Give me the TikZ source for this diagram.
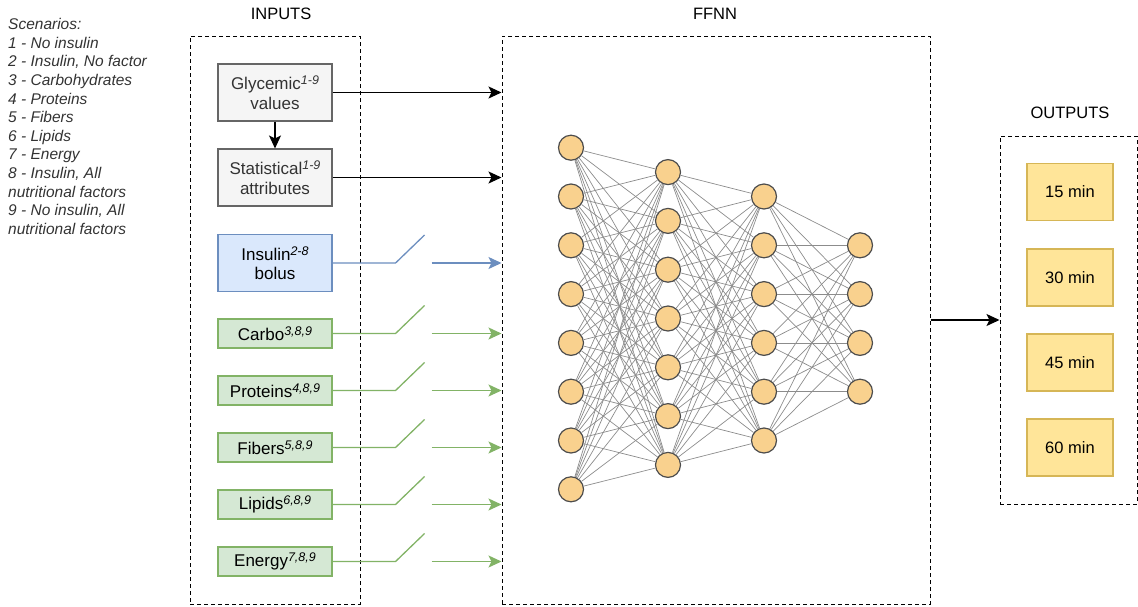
\documentclass[tikz,border=0pt]{standalone}
\usepackage{fontspec}
\setmainfont{Liberation Sans}
\usetikzlibrary{arrows.meta}

\definecolor{grayfill}{HTML}{F5F5F5}
\definecolor{graydraw}{HTML}{666666}
\definecolor{bluefill}{HTML}{DAE8FC}
\definecolor{bluedraw}{HTML}{6C8EBF}
\definecolor{greenfill}{HTML}{D5E8D4}
\definecolor{greendraw}{HTML}{82B366}
\definecolor{yellowfill}{HTML}{FFE599}
\definecolor{yellowdraw}{HTML}{D6B656}
\definecolor{neuronfill}{HTML}{F9D18E}
\definecolor{neurondraw}{HTML}{4D4D4D}
\definecolor{textgray}{HTML}{333333}

\newcommand\supi[1]{\raisebox{5pt}{\fontsize{12.5}{13}\selectfont\itshape #1}}

\tikzset{
  frame/.style={draw, line width=1pt, dash pattern=on 4pt off 3pt, inner sep=0pt},
  title/.style={font=\fontsize{16.5}{19.5}\selectfont, text=black, inner sep=0pt},
  inbox/.style={draw, line width=1.1pt, minimum width=114pt, align=center,
    inner sep=0pt, font=\fontsize{17}{19.5}\selectfont},
  graybox/.style={inbox, fill=grayfill, draw=graydraw, text=textgray, minimum height=57pt},
  bluebox/.style={inbox, fill=bluefill, draw=bluedraw, text=black, minimum height=57pt},
  greenbox/.style={inbox, fill=greenfill, draw=greendraw, text=black, minimum height=29pt},
  outbox/.style={draw=yellowdraw, fill=yellowfill, line width=1.1pt, minimum width=86pt,
    minimum height=57pt, inner sep=0pt, font=\fontsize{16.5}{19.5}\selectfont},
  neuron/.style={circle, draw=neurondraw, fill=neuronfill, line width=1.2pt,
    minimum size=25pt, inner sep=0pt},
  edge/.style={draw=black!45, line width=0.7pt},
  tip/.style={-{Stealth[length=13pt, width=12pt, inset=3pt]}},
  blackarrow/.style={tip, draw=black, line width=1.3pt},
  bluearrow/.style={tip, draw=bluedraw, line width=1.3pt},
  greenarrow/.style={tip, draw=greendraw, line width=1.3pt},
  blueline/.style={draw=bluedraw, line width=1.3pt},
  greenline/.style={draw=greendraw, line width=1.3pt},
}

\begin{document}
\begin{tikzpicture}[x=1pt, y=-1pt]
  \useasboundingbox (0,0) rectangle (1138,606);

  % legend of scenarios
  \node[anchor=north west, inner sep=0pt, align=left, text=textgray,
        font=\fontsize{15.5}{18.6}\selectfont\itshape] (legend) at (8,18.2)
    {Scenarios:\\1 - No insulin\\2 - Insulin, No factor\\3 - Carbohydrates\\4 - Proteins\\
     5 - Fibers\\6 - Lipids\\7 - Energy\\8 - Insulin, All\\nutritional factors\\
     9 - No insulin, All\\nutritional factors};

  % group frames
  \node[frame, minimum width=170pt, minimum height=568pt] (inputs) at (275,320) {};
  \node[frame, minimum width=428pt, minimum height=568pt] (ffnn) at (716,320) {};
  \node[frame, minimum width=137pt, minimum height=368pt] (outputs) at (1068.5,320) {};

  \node[title] (tin) at (281,14) {INPUTS};
  \node[title] (tff) at (715,14) {FFNN};
  \node[title] (tout) at (1070,113) {OUTPUTS};

  % input variables
  \node[graybox] (gly) at (275,92.5) {Glycemic\supi{1-9}\\values};
  \node[graybox] (stat) at (275,177.5) {Statistical\supi{1-9}\\attributes};
  \node[bluebox] (ins) at (275,263) {Insulin\supi{2-8}\\bolus};
  \node[greenbox] (carb) at (275,333.5) {Carbo\supi{3,8,9}};
  \node[greenbox] (prot) at (275,390.5) {Proteins\supi{4,8,9}};
  \node[greenbox] (fib) at (275,447.5) {Fibers\supi{5,8,9}};
  \node[greenbox] (lip) at (275,504.5) {Lipids\supi{6,8,9}};
  \node[greenbox] (ene) at (275,561.5) {Energy\supi{7,8,9}};

  \draw[blackarrow] (gly.south) -- (stat.north);
  \draw[blackarrow] (gly.east) -- (gly.east -| ffnn.west);
  \draw[blackarrow] (stat.east) -- (stat.east -| ffnn.west);

  % switched inputs
  \draw[blueline] (ins.east) -- ++(63,0) -- ++(29,-28);
  \draw[bluearrow] ([xshift=99pt]ins.east) -- (ins.east -| ffnn.west);
  \foreach \b in {carb,prot,fib,lip,ene} {
    \draw[greenline] (\b.east) -- ++(63,0) -- ++(29,-28);
    \draw[greenarrow] ([xshift=99pt]\b.east) -- (\b.east -| ffnn.west);
  }

  % network layers
  \foreach \L/\n/\x in {1/8/571, 2/7/668, 3/6/764, 4/4/860} {
    \foreach \i in {1,...,\n} {
      \pgfmathsetmacro\yy{318.5 + (\i - (\n+1)/2)*48.8}
      \node[neuron] (n\L-\i) at (\x,\yy) {};
    }
  }
  \foreach \L/\n/\M/\m in {1/8/2/7, 2/7/3/6, 3/6/4/4} {
    \foreach \i in {1,...,\n} {
      \foreach \j in {1,...,\m} {
        \draw[edge] (n\L-\i) -- (n\M-\j);
      }
    }
  }

  % outputs
  \draw[blackarrow] (ffnn.east) -- (outputs.west);
  \node[outbox] (o15) at (1070,192) {15 min};
  \node[outbox] (o30) at (1070,277.5) {30 min};
  \node[outbox] (o45) at (1070,362.5) {45 min};
  \node[outbox] (o60) at (1070,447.5) {60 min};
\end{tikzpicture}
\end{document}
